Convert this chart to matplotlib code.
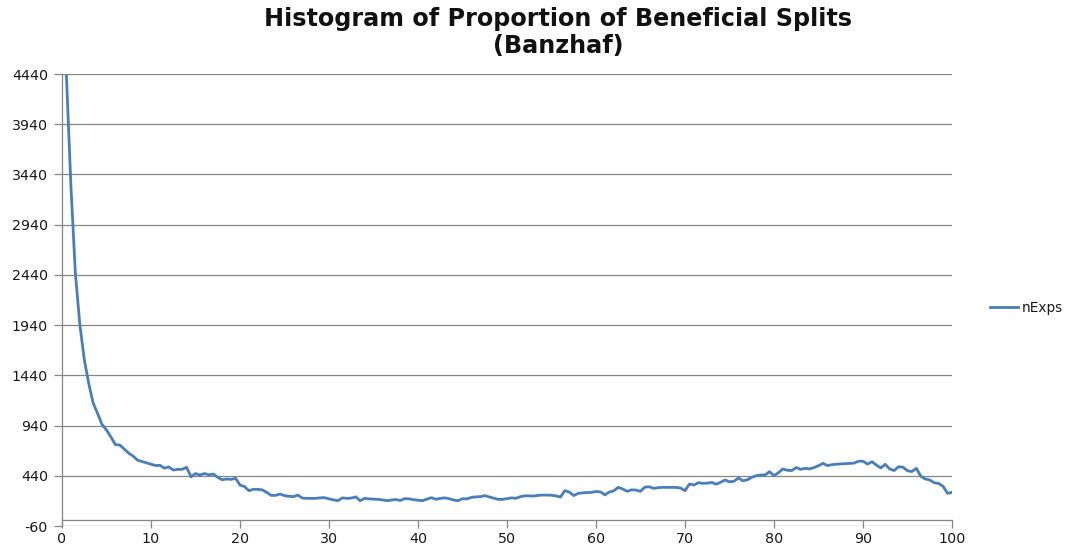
import numpy as np
import matplotlib
matplotlib.use("Agg")
import matplotlib.pyplot as plt

plt.rcParams["font.family"] = ["DejaVu Sans"]

# ---- data ----
series_name = "nExps"
n_exps = [
    4420, 3330, 2460, 1950, 1600, 1360, 1165, 1060, 950, 896,      # 0.5 .. 5.0
    825, 750, 746, 705, 665, 635, 595, 582, 570, 555,              # 5.5 .. 10.0
    542, 544, 516, 528, 497, 504, 504, 524, 430, 462,              # 10.5 .. 15.0
    448, 462, 450, 457, 425, 400, 408, 404, 415, 348,              # 15.5 .. 20.0
    333, 292, 305, 305, 300, 275, 245, 245, 258, 242,              # 20.5 .. 25.0
    236, 232, 248, 218, 215, 215, 215, 220, 222, 210,              # 25.5 .. 30.0
    200, 192, 220, 215, 218, 230, 192, 215, 210, 208,              # 30.5 .. 35.0
    205, 200, 192, 198, 204, 194, 212, 210, 202, 197,              # 35.5 .. 40.0
    192, 208, 222, 206, 215, 220, 212, 198, 192, 212,              # 40.5 .. 45.0
    210, 225, 230, 232, 242, 230, 218, 205, 205, 212,              # 45.5 .. 50.0
    220, 216, 232, 240, 240, 238, 245, 248, 248, 246,              # 50.5 .. 55.0
    240, 228, 292, 278, 243, 265, 270, 273, 275, 283,              # 55.5 .. 60.0
    280, 250, 278, 290, 325, 308, 285, 300, 298, 285,              # 60.5 .. 65.0
    328, 330, 315, 322, 325, 325, 325, 324, 318, 292,              # 65.5 .. 70.0
    358, 348, 371, 365, 366, 374, 356, 375, 398, 380,              # 70.5 .. 75.0
    385, 418, 390, 400, 425, 440, 448, 448, 481, 441,              # 75.5 .. 80.0
    471, 508, 495, 492, 522, 504, 514, 508, 522, 540,              # 80.5 .. 85.0
    564, 542, 550, 555, 558, 562, 564, 566, 585, 585,              # 85.5 .. 90.0
    556, 580, 547, 518, 554, 508, 492, 530, 525, 490,              # 90.5 .. 95.0
    482, 514, 435, 408, 398, 370, 364, 335, 265, 275,              # 95.5 .. 100.0
]
proportion = np.arange(1, len(n_exps) + 1) * 0.5   # 0.5, 1.0, ..., 100.0

x_ticks = [0, 10, 20, 30, 40, 50, 60, 70, 80, 90, 100]
y_ticks = [-60, 440, 940, 1440, 1940, 2440, 2940, 3440, 3940, 4440]
title_lines = ["Histogram of Proportion of Beneficial Splits", "(Banzhaf)"]

# ---- figure ----
W, H = 1079, 547
fig = plt.figure(figsize=(W / 100, H / 100), dpi=100)
ax = fig.add_axes([62 / W, 1 - 526 / H, (952 - 62) / W, (526 - 74) / H])

grid_col = "#868686"
line_col = "#4A7EBB"
text_col = "#1a1a1a"

ax.plot(proportion, n_exps, color=line_col, lw=2.0, label=series_name,
        solid_joinstyle="round", clip_on=True)

ax.set_xlim(0, 100)
ax.set_ylim(-60, 4440)
ax.set_xticks(x_ticks)
ax.set_yticks(y_ticks)
ax.set_xticklabels([str(t) for t in x_ticks])
ax.set_yticklabels([str(t) for t in y_ticks])

ax.yaxis.grid(True, color=grid_col, lw=0.9)
ax.set_axisbelow(True)

for s in ["top", "right"]:
    ax.spines[s].set_visible(False)
ax.spines["left"].set_color(grid_col)
ax.spines["left"].set_linewidth(0.9)
ax.spines["bottom"].set_color(grid_col)
ax.spines["bottom"].set_linewidth(0.9)
ax.spines["bottom"].set_position(("data", 0))

ax.tick_params(axis="y", direction="out", length=6, width=0.9, color=grid_col,
               labelsize=10.3, labelcolor=text_col, pad=4)
ax.tick_params(axis="x", direction="out", length=6, width=0.9, color=grid_col,
               labelsize=10.3, labelcolor=text_col, pad=2.5)

# title
for txt, yy in zip(title_lines, [19, 46]):
    fig.text(558 / W, 1 - yy / H, txt, ha="center", va="center",
             fontsize=17.2, fontweight="bold", color="#111111")

# legend
leg = fig.legend(loc="center left", bbox_to_anchor=(985 / W, 1 - 308 / H),
                 frameon=False, fontsize=9.8, handlelength=2.0,
                 handletextpad=0.3, borderaxespad=0, labelcolor=text_col)

fig.savefig("out.png", dpi=100, facecolor="white")
